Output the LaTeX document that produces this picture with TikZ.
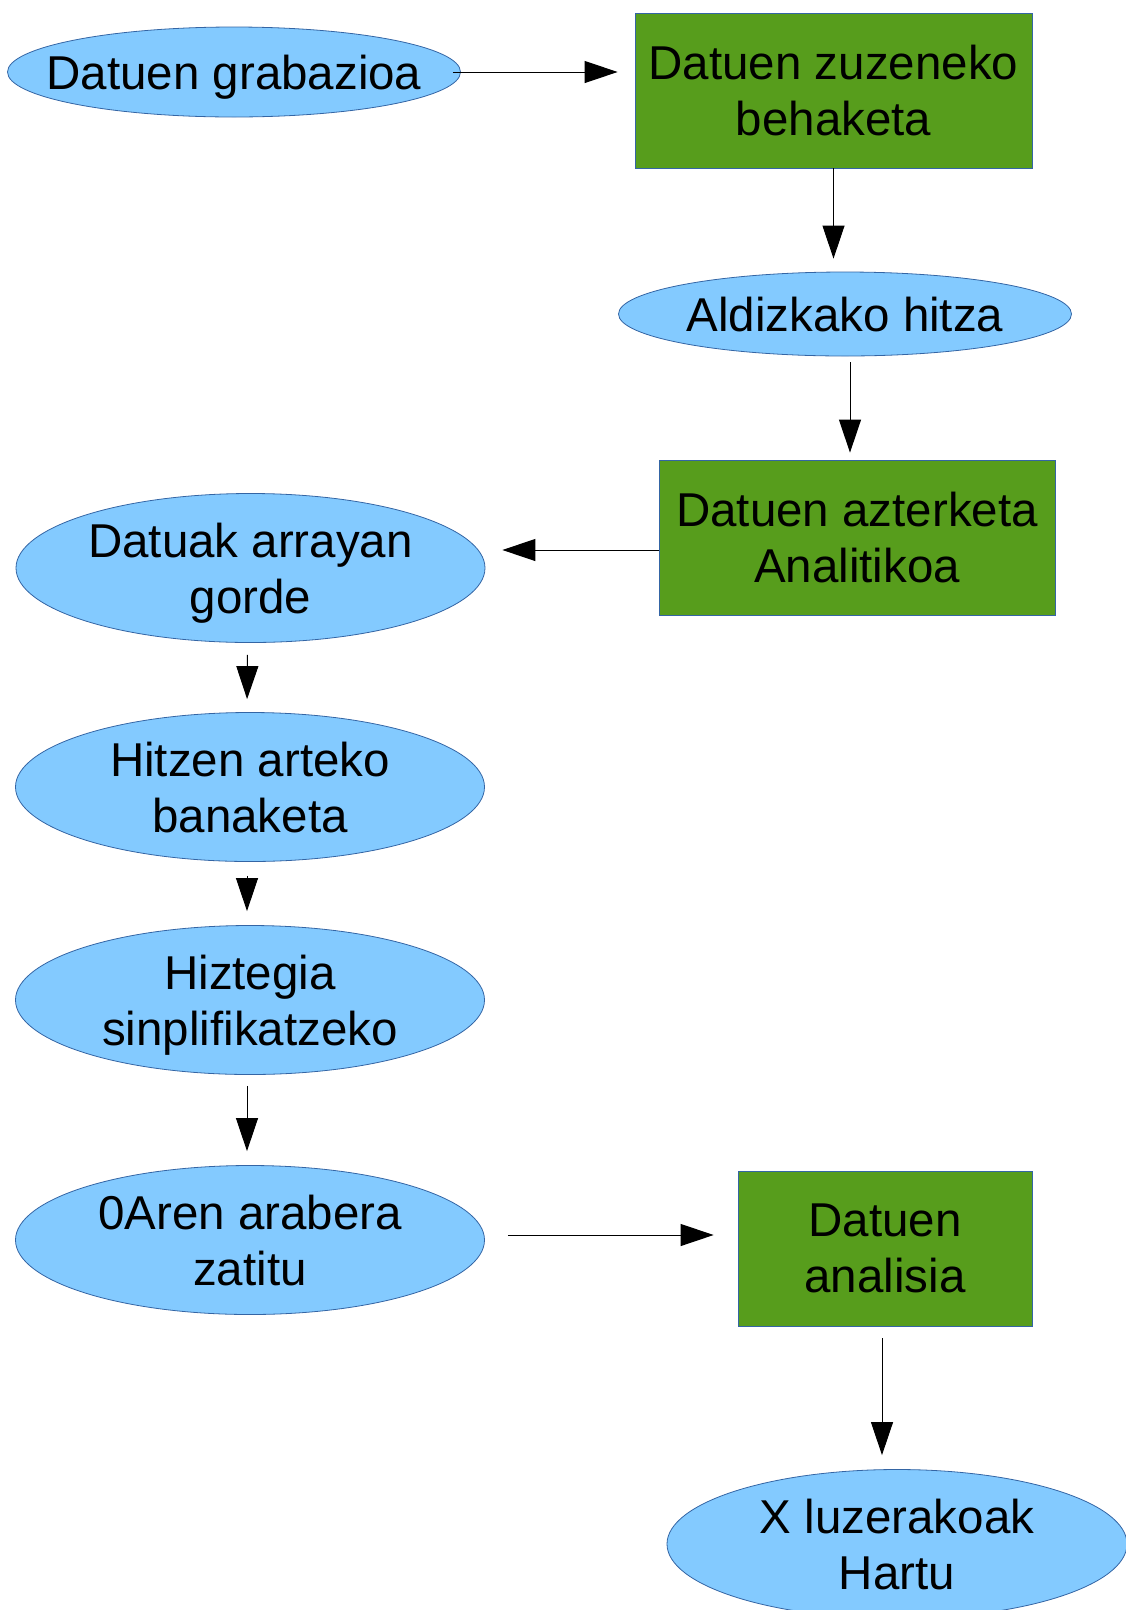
\documentclass[tikz,border=0pt]{standalone}
\usepackage{fontspec}
\setmainfont{Liberation Sans}
\usetikzlibrary{shapes.geometric,arrows.meta}
\definecolor{ovalblue}{HTML}{83CAFF}
\definecolor{boxgreen}{HTML}{579D1C}
\definecolor{edgeblue}{HTML}{3465A4}
\begin{document}
\begin{tikzpicture}[x=1pt, y=-1pt, >={Triangle[length=33pt,width=22pt]},
    every node/.style={font=\fontsize{47.5}{56}\selectfont, align=center, inner sep=0pt},
    oval/.style={ellipse, draw=edgeblue, line width=0.8pt, fill=ovalblue, inner xsep=-30pt, text depth=0pt, minimum width=469pt, minimum height=149pt},
    greenbox/.style={rectangle, draw=edgeblue, line width=0.8pt, fill=boxgreen, minimum width=397pt, minimum height=155pt},
    flow/.style={->, line width=1pt, black}]

    \useasboundingbox (0,0) rectangle (1126,1610);

    % ================= goiko zatia =================
    \node[oval, minimum width=453pt, minimum height=90pt] (grab) at (234,72) {Datuen grabazioa};
    \node[greenbox] (zuzen) at (833.5,90.5) {Datuen zuzeneko\\behaketa};
    \node[oval, minimum width=453pt, minimum height=84pt] (aldiz) at (845,314) {Aldizkako hitza};
    \node[greenbox, minimum width=396pt] (azter) at (857,537.5) {Datuen azterketa\\Analitikoa};

    % ================= ezkerreko zutabea =================
    \node[oval] (array) at (250.5,568) {Datuak arrayan\\gorde};
    \node[oval] (banak) at (250,787) {Hitzen arteko\\banaketa};
    \node[oval] (hizteg) at (250,1000) {Hiztegia\\sinplifikatzeko};
    \node[oval] (zatit) at (250,1240) {0Aren arabera\\zatitu};

    % ================= beheko zatia =================
    \node[greenbox, minimum width=294pt] (analis) at (885,1248.5) {Datuen\\analisia};
    \node[oval, minimum width=460pt] (luzera) at (897,1544) {X luzerakoak\\Hartu};

    % geziak
    \draw[flow, shorten <=-8pt, shorten >=17pt] (grab.east) -- (zuzen.west |- grab.east);
    \draw[flow, shorten >=13pt] (zuzen.south) -- (zuzen.south |- aldiz.north);
    \draw[flow, shorten <=6pt, shorten >=7pt] ([xshift=5pt]aldiz.south) -- ([xshift=5pt]aldiz.south |- azter.north);
    \draw[flow, shorten >=17pt] ([yshift=-12.5pt]azter.west) -- ([yshift=-12.5pt]azter.west -| array.east);
    \draw[flow, shorten <=12pt, shorten >=13pt] ([xshift=-3pt]array.south) -- ([xshift=-3pt]banak.north);
    \draw[flow, shorten <=14pt, shorten >=14pt] ([xshift=-3pt]banak.south) -- ([xshift=-3pt]hizteg.north);
    \draw[flow, shorten <=11pt, shorten >=14pt] ([xshift=-3pt]hizteg.south) -- ([xshift=-3pt]zatit.north);
    \draw[flow, shorten <=23pt, shorten >=24pt] ([yshift=5pt]zatit.east) -- ([yshift=5pt]zatit.east -| analis.west);
    \draw[flow, shorten <=12pt, shorten >=14pt] ([xshift=-3pt]analis.south) -- ([xshift=-3pt]analis.south |- luzera.north);

\end{tikzpicture}
\end{document}
